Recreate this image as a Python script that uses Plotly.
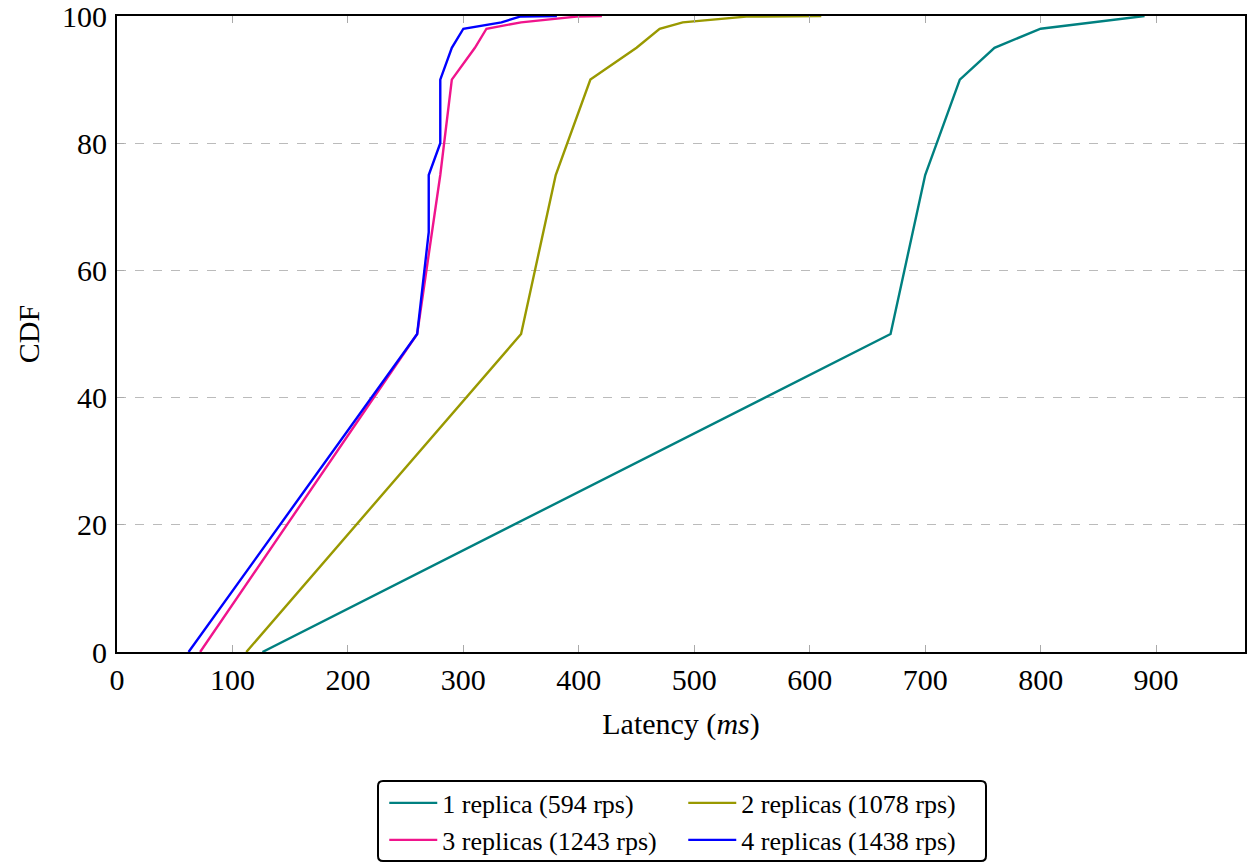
import plotly.graph_objects as go

# ---- data ----
names = ["1 replica (594 rps)", "2 replicas (1078 rps)",
         "3 replicas (1243 rps)", "4 replicas (1438 rps)"]

lat_1 = [126, 670, 700, 730, 760, 800, 890]
cdf_1 = [0, 50, 75, 90, 95, 98, 100]

lat_2 = [112, 350, 380, 410, 450, 470, 490, 545, 610]
cdf_2 = [0, 50, 75, 90, 95, 98, 99, 99.9, 100]

lat_3 = [72, 260, 280, 290, 310, 320, 350, 398, 420]
cdf_3 = [0, 50, 75, 90, 95, 98, 99, 99.9, 100]

lat_4 = [62, 260, 270, 270, 280, 280, 290, 300, 333, 349, 381]
cdf_4 = [0, 50, 66, 75, 80, 90, 95, 98, 99, 99.9, 100]

x_ticks = [0, 100, 200, 300, 400, 500, 600, 700, 800, 900]
y_ticks = [0, 20, 40, 60, 80, 100]

colors = ["#008080", "#999900", "#f0148c", "#0000ff"]

FONT = "Liberation Serif"

fig = go.Figure()
series = [(lat_1, cdf_1), (lat_2, cdf_2), (lat_3, cdf_3), (lat_4, cdf_4)]
legends = ["legend", "legend", "legend2", "legend2"]
for (xs, ys), nm, c, lg in zip(series, names, colors, legends):
    fig.add_trace(go.Scatter(x=xs, y=ys, mode="lines", name=nm,
                             line=dict(color=c, width=2.4), legend=lg))

legend_common = dict(
    orientation="h", xanchor="center", x=0.502, yanchor="middle",
    font=dict(family=FONT, size=26, color="black"),
    bgcolor="rgba(0,0,0,0)", borderwidth=0,
    entrywidth=236, entrywidthmode="pixels", itemwidth=48,
    traceorder="normal",
)

fig.update_layout(
    width=1247, height=863,
    margin=dict(l=117, r=2, t=16, b=211, autoexpand=False),
    paper_bgcolor="white", plot_bgcolor="white",
    font=dict(family=FONT, size=30, color="black"),
    showlegend=True,
    legend=dict(y=-0.2374, **legend_common),
    legend2=dict(y=-0.2956, **legend_common),
    xaxis=dict(
        range=[0, 977], tickvals=x_ticks, ticktext=[str(v) for v in x_ticks],
        showgrid=False, zeroline=False, automargin=False,
        showline=True, linecolor="black", linewidth=2, mirror="ticks",
        ticks="inside", ticklen=7, tickwidth=1, tickcolor="#aaaaaa",
        tickfont=dict(family=FONT, size=30), ticklabeloverflow="allow",
        title=dict(text="Latency (<i>ms</i>)", font=dict(family=FONT, size=30), standoff=18),
    ),
    yaxis=dict(
        range=[0, 100], tickvals=y_ticks, ticktext=[str(v) for v in y_ticks],
        showgrid=True, gridcolor="#bbbbbb", gridwidth=1, griddash="dash",
        zeroline=False, automargin=False,
        showline=True, linecolor="black", linewidth=2, mirror="ticks",
        ticks="inside", ticklen=7, tickwidth=1, tickcolor="#aaaaaa",
        tickfont=dict(family=FONT, size=30), ticklabelstandoff=2,
        ticklabeloverflow="allow",
        title=dict(text="CDF", font=dict(family=FONT, size=30), standoff=14),
    ),
)

# legend frame (rounded rectangle) in paper coords
def px2x(px):
    return (px - 117) / 1128.0

def py2y(py):
    return (652 - py) / 636.0

x0, x1, y0, y1, r = 378, 986, 781, 861, 5
path = (f"M {px2x(x0 + r)},{py2y(y0)} L {px2x(x1 - r)},{py2y(y0)} "
        f"Q {px2x(x1)},{py2y(y0)} {px2x(x1)},{py2y(y0 + r)} "
        f"L {px2x(x1)},{py2y(y1 - r)} Q {px2x(x1)},{py2y(y1)} {px2x(x1 - r)},{py2y(y1)} "
        f"L {px2x(x0 + r)},{py2y(y1)} Q {px2x(x0)},{py2y(y1)} {px2x(x0)},{py2y(y1 - r)} "
        f"L {px2x(x0)},{py2y(y0 + r)} Q {px2x(x0)},{py2y(y0)} {px2x(x0 + r)},{py2y(y0)} Z")
fig.add_shape(type="path", path=path, xref="paper", yref="paper",
              line=dict(color="black", width=2), fillcolor="rgba(0,0,0,0)")

fig.write_html("out.html")
